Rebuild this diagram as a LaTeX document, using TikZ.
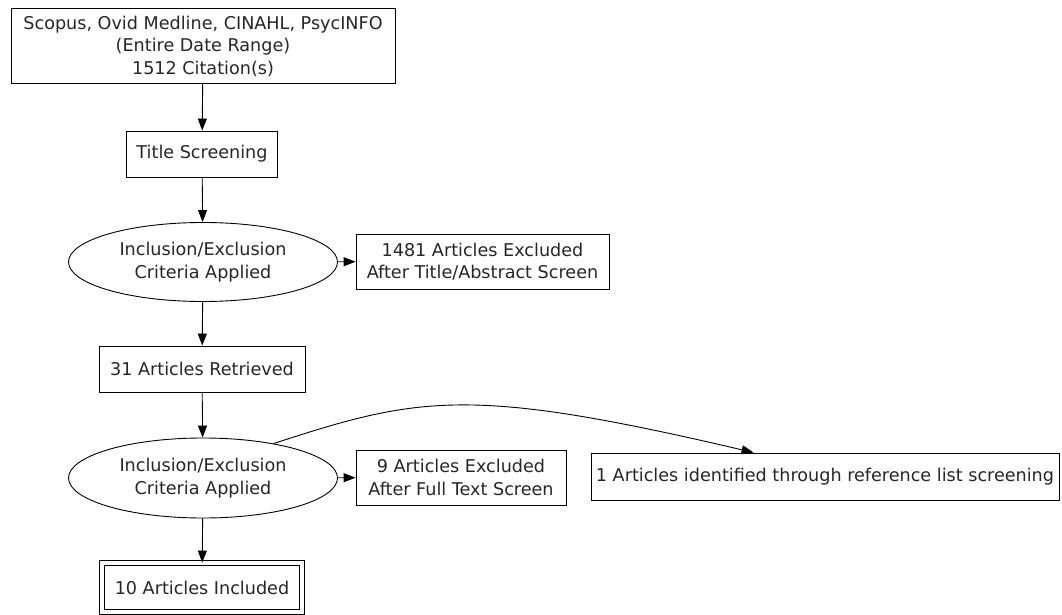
\documentclass[tikz,border=0pt]{standalone}
\usepackage{fontspec}
\setmainfont{DejaVu Sans}
\usetikzlibrary{arrows.meta,shapes.geometric}
\begin{document}
\begin{tikzpicture}[x=1pt,y=-1pt,
  every node/.style={font=\fontsize{17.6}{22.5}\selectfont, align=center, inner sep=0pt, text=black!85},
  box/.style={draw, line width=0.9pt, rectangle},
  oval/.style={draw, line width=0.9pt, ellipse},
  conn/.style={line width=0.9pt, -{Triangle[length=12pt,width=9pt]}}]
\useasboundingbox (0,0) rectangle (1062,615);
\node[box, minimum width=384, minimum height=75] (src) at (203,46) {Scopus, Ovid Medline, CINAHL, PsycINFO\\(Entire Date Range)\\1512 Citation(s)};
\node[box, minimum width=151, minimum height=46] (title) at (202,154) {Title Screening};
\node[oval, minimum width=269, minimum height=79] (e1) at (203,262) {Inclusion/Exclusion\\Criteria Applied};
\node[box, minimum width=253, minimum height=55] (x1) at (482.5,261.5) {1481 Articles Excluded\\After Title/Abstract Screen};
\node[box, minimum width=206, minimum height=46] (ret) at (202,369) {31 Articles Retrieved};
\node[oval, minimum width=269, minimum height=80] (e2) at (203,478) {Inclusion/Exclusion\\Criteria Applied};
\node[box, minimum width=210, minimum height=55] (x2) at (461,477.5) {9 Articles Excluded\\After Full Text Screen};
\node[box, minimum width=468, minimum height=47] (ref) at (825,476.5) {1 Articles identified through reference list screening};
\node[box, double, double distance=4.2pt, minimum width=200, minimum height=49] (inc) at (202,587.5) {10 Articles Included};
\draw[conn] (src) -- (title);
\draw[conn] (title) -- (e1);
\draw[conn] (e1) -- (x1);
\draw[conn] (e1) -- (ret);
\draw[conn] (ret) -- (e2);
\draw[conn] (e2) -- (x2);
\draw[conn] (e2) -- (inc);
\coordinate (refin) at ([xshift=163pt]ref.north west);
\draw[conn] (e2.26) .. controls (419,396) and (470,386) .. (refin);
\end{tikzpicture}
\end{document}
